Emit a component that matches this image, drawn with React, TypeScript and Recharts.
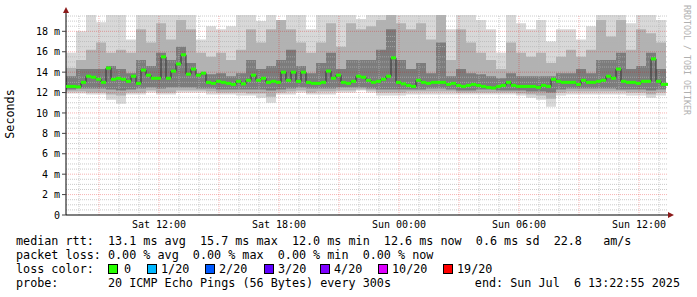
import React from "react";
import {
  ComposedChart,
  Area,
  Line,
  Scatter,
  XAxis,
  YAxis,
  ReferenceLine,
} from "recharts";

// time axis: hours since Sat 00:00
const START_H = 7.35;
const END_H = 37.45;
const MEDIAN_STEP_H = 0.25;
const SMOKE_STEP_H = 0.5;

const xTicks = [12, 18, 24, 30, 36];
const xTickLabels = ["Sat 12:00", "Sat 18:00", "Sun 00:00", "Sun 06:00", "Sun 12:00"];
const yTicks = [0, 2, 4, 6, 8, 10, 12, 14, 16, 18];

// median rtt (ms), one value every 15 min
const medianRtt = [
  12.6, 12.6, 12.55, 13.0, 13.6, 13.5, 13.3, 13.0, 14.4, 13.3,
  13.4, 13.3, 13.1, 13.6, 12.9, 14.2, 13.7, 13.4, 13.4, 15.5,
  13.4, 14.1, 14.8, 15.7, 13.8, 14.3, 13.7, 13.9, 13.0, 12.9,
  13.1, 13.0, 12.9, 12.8, 13.1, 12.85, 13.2, 13.7, 13.2, 13.4,
  13.0, 13.1, 13.0, 14.0, 13.2, 14.0, 13.1, 14.0, 13.0, 12.9,
  12.9, 13.0, 14.1, 13.4, 13.7, 13.0, 12.9, 13.1, 13.6, 13.5,
  13.2, 13.0, 13.1, 13.3, 13.6, 15.4, 13.0, 12.85, 12.7, 12.6,
  13.2, 13.0, 12.9, 13.0, 13.0, 13.0, 12.8, 12.9, 12.7, 12.6,
  12.7, 12.8, 12.7, 12.6, 12.5, 12.45, 12.6, 12.7, 13.0, 12.7,
  12.6, 12.6, 12.6, 12.6, 12.5, 12.7, 12.6, 13.3, 13.1, 13.0,
  13.0, 13.0, 12.8, 13.2, 13.0, 13.0, 13.1, 13.2, 13.6, 13.4,
  14.3, 13.1, 13.0, 13.0, 12.9, 13.1, 13.1, 15.3, 13.1, 12.8, 12.8,
];

// smoke bands (ms), one value every 30 min
const smokeMax = [
  15.9, 18.0, 19.6, 18.9, 19.6, 19.6, 17.2, 19.6, 19.6, 19.6,
  19.6, 19.6, 19.6, 17.2, 18.5, 18.2, 18.5, 19.6, 19.6, 19.0,
  19.6, 18.6, 19.6, 19.6, 18.2, 19.6, 19.6, 19.6, 19.6, 19.2,
  19.6, 19.6, 19.6, 19.6, 19.6, 19.6, 19.6, 19.6, 18.2, 19.6,
  19.6, 19.1, 18.2, 15.9, 19.6, 18.8, 18.2, 19.1, 17.0, 18.2,
  18.2, 17.2, 18.5, 19.6, 19.6, 19.6, 18.8, 19.6, 19.6, 19.1, 19.1,
];
const midHigh = [
  14.4, 15.2, 16.2, 16.9, 15.9, 16.2, 15.9, 18.2, 16.9, 18.8,
  17.2, 19.1, 18.2, 15.9, 15.5, 15.9, 15.2, 16.2, 18.2, 16.9,
  18.2, 19.1, 18.2, 16.9, 15.9, 16.9, 18.8, 16.5, 18.8, 18.2,
  18.5, 19.1, 19.6, 18.8, 18.2, 18.8, 17.2, 19.6, 15.2, 18.2,
  16.9, 15.9, 15.2, 14.3, 16.9, 15.9, 15.5, 15.9, 14.9, 15.5,
  16.2, 15.5, 16.2, 19.1, 17.5, 19.1, 16.2, 18.2, 17.8, 16.9, 16.9,
];
const darkHigh = [
  13.6, 14.3, 14.3, 14.3, 14.6, 14.3, 13.9, 15.2, 14.6, 15.9,
  15.2, 16.5, 14.9, 13.9, 13.8, 13.9, 13.6, 13.9, 15.2, 14.3,
  14.6, 15.2, 16.2, 14.6, 13.9, 14.9, 15.9, 14.3, 15.2, 15.2,
  15.2, 16.2, 18.2, 15.2, 14.3, 14.9, 13.9, 16.9, 13.6, 14.3,
  13.9, 13.8, 13.6, 13.4, 13.9, 13.6, 13.6, 13.6, 13.6, 13.9,
  13.9, 14.3, 13.9, 15.2, 15.2, 15.9, 14.3, 14.6, 15.9, 14.3, 14.3,
];
const darkLow = [
  12.3, 12.4, 12.4, 12.4, 12.3, 12.2, 12.3, 12.4, 12.5, 12.4,
  12.5, 12.5, 12.5, 12.4, 12.4, 12.3, 12.3, 12.3, 12.3, 12.3,
  12.2, 12.3, 12.4, 12.5, 12.4, 12.4, 12.4, 12.5, 12.5, 12.5,
  12.4, 12.3, 12.3, 12.3, 12.3, 12.3, 12.4, 12.4, 12.3, 12.2,
  12.2, 12.3, 12.3, 12.2, 12.2, 12.2, 12.1, 12.1, 12.0, 12.3,
  12.4, 12.4, 12.4, 12.4, 12.4, 12.3, 12.3, 12.3, 12.2, 12.3, 12.3,
];
const midLow = [
  12.1, 12.1, 12.0, 12.0, 11.8, 11.7, 12.0, 12.0, 12.2, 12.0,
  12.0, 12.2, 12.2, 12.2, 12.1, 12.0, 12.0, 12.0, 11.9, 11.9,
  11.6, 12.0, 12.1, 12.2, 12.0, 12.1, 12.1, 12.2, 12.2, 12.3,
  12.2, 12.0, 12.0, 12.0, 12.1, 12.1, 12.1, 12.1, 12.1, 12.0,
  12.0, 12.0, 12.0, 12.0, 12.0, 11.9, 11.8, 11.7, 11.4, 12.0,
  12.1, 12.1, 12.1, 12.1, 12.1, 12.1, 12.0, 12.0, 11.8, 12.0, 12.0,
];
const smokeMin = [
  11.9, 11.9, 11.8, 11.8, 11.3, 10.9, 11.8, 11.8, 12.0, 11.8,
  11.8, 12.0, 12.0, 12.0, 11.8, 11.8, 11.8, 11.7, 11.7, 11.5,
  11.0, 11.8, 11.8, 12.0, 11.8, 11.8, 11.8, 12.0, 12.0, 12.2,
  12.0, 11.7, 11.7, 11.7, 11.8, 11.8, 11.8, 11.8, 11.8, 11.8,
  11.8, 11.8, 11.8, 11.8, 11.8, 11.7, 11.5, 11.3, 10.6, 11.7,
  11.8, 11.8, 11.8, 11.8, 11.8, 11.8, 11.7, 11.7, 11.5, 11.7, 11.7,
];

const lossLabels = ["0", "1/20", "2/20", "3/20", "4/20", "10/20", "19/20"];
const lossColors = ["#26ff00", "#00b8ff", "#0059ff", "#5e00ff", "#7e00ff", "#dd00ff", "#ff0000"];

const statsLine = "median rtt:  13.1 ms avg  15.7 ms max  12.0 ms min  12.6 ms now  0.6 ms sd  22.8   am/s";
const lossLine = "packet loss: 0.00 % avg  0.00 % max  0.00 % min  0.00 % now";
const probeText = "20 ICMP Echo Pings (56 Bytes) every 300s";
const endText = "end: Sun Jul  6 13:22:55 2025";

const medianRows = medianRtt.map((v, i) => ({ t: START_H + i * MEDIAN_STEP_H, median: v }));
const smokeRows = smokeMax.map((_, i) => ({
  t: START_H + i * SMOKE_STEP_H,
  outer: [smokeMin[i], smokeMax[i]],
  mid: [midLow[i], midHigh[i]],
  dark: [darkLow[i], darkHigh[i]],
}));

// grid lines
const minorY = Array.from({ length: 39 }, (_, i) => (i + 1) * 0.5).filter((v) => v % 2 !== 0);
const majorY = [2, 4, 6, 8, 10, 12, 14, 16, 18];
const hours = Array.from({ length: 30 }, (_, i) => 8 + i);
const minorX = hours.filter((h) => h % 3 !== 0);
const majorX = hours.filter((h) => h % 3 === 0);

const MONO = "'DejaVu Sans Mono', monospace";
const LEGEND_BOX_X = [108, 147, 205, 264, 320, 378, 443];
const LEGEND_TEXT_X = [124, 161, 219, 278, 334, 392, 457];

// svg text collapses runs of spaces, keep them as nbsp
const keepSpaces = (s: string) => s.replace(/ /g, "\u00a0");

const GreenDash = (props: any) => {
  const { cx, cy } = props;
  if (cx == null || cy == null) return null;
  return <rect x={cx} y={cy - 1.5} width={5} height={3} fill="#26ff00" />;
};

export default function App() {
  return (
    <div style={{ position: "fixed", left: 0, top: 0, width: 697, height: 297, background: "#fff" }}>
      <ComposedChart
        width={697}
        height={297}
        data={medianRows}
        margin={{ top: 15, right: 29, bottom: 62, left: 0 }}
      >
        <XAxis
          dataKey="t"
          type="number"
          domain={[START_H, END_H]}
          allowDataOverflow
          ticks={xTicks}
          interval={0}
          tickFormatter={(v) => xTickLabels[xTicks.indexOf(v)]}
          height={20}
          axisLine={{ stroke: "#000" }}
          tickLine={false}
          tickSize={4}
          tickMargin={2}
          tick={{ fontFamily: MONO, fontSize: 10, fill: "#000" }}
        />
        <YAxis
          type="number"
          domain={[0, 19.6]}
          allowDataOverflow
          ticks={yTicks}
          interval={0}
          tickFormatter={(v) => (v === 0 ? "0" : `${v} m`)}
          width={66}
          axisLine={{ stroke: "#000" }}
          tickLine={{ stroke: "#444" }}
          tickSize={4}
          tickMargin={2}
          tick={{ fontFamily: MONO, fontSize: 10, fill: "#000" }}
        />
        <Area
          data={smokeRows}
          dataKey={(d: any) => d.outer}
          type="stepAfter"
          stroke="none"
          fill="#d8d8d8"
          fillOpacity={1}
          isAnimationActive={false}
        />
        <Area
          data={smokeRows}
          dataKey={(d: any) => d.mid}
          type="stepAfter"
          stroke="none"
          fill="#b2b2b2"
          fillOpacity={1}
          isAnimationActive={false}
        />
        <Area
          data={smokeRows}
          dataKey={(d: any) => d.dark}
          type="stepAfter"
          stroke="none"
          fill="#7c7c7c"
          fillOpacity={1}
          isAnimationActive={false}
        />
        {minorY.map((v) => (
          <ReferenceLine key={`my${v}`} y={v} stroke="#b4b4b4" strokeOpacity={0.7} strokeDasharray="1 1" />
        ))}
        {minorX.map((h) => (
          <ReferenceLine key={`mx${h}`} x={h} stroke="#b4b4b4" strokeOpacity={0.7} strokeDasharray="1 1" />
        ))}
        {majorY.map((v) => (
          <ReferenceLine key={`My${v}`} y={v} stroke="#e00000" strokeOpacity={0.3} strokeDasharray="1 1" />
        ))}
        {majorX.map((h) => (
          <ReferenceLine key={`Mx${h}`} x={h} stroke="#e00000" strokeOpacity={0.3} strokeDasharray="1 1" />
        ))}
        <Line
          dataKey="median"
          type="stepAfter"
          stroke="#333"
          strokeWidth={1}
          dot={false}
          isAnimationActive={false}
        />
        <Scatter dataKey="median" shape={GreenDash} isAnimationActive={false} />
      </ComposedChart>

      <svg
        width={697}
        height={297}
        style={{ position: "absolute", left: 0, top: 0, pointerEvents: "none" }}
      >
        <line x1={66} y1={10} x2={66} y2={15} stroke="#000" />
        <polygon points="63,13 69,13 66,7" fill="#8b1a1a" />
        <polygon points="668,212 668,218 674,215" fill="#8b1a1a" />
        <text
          x={14}
          y={114}
          transform="rotate(-90 14 114)"
          textAnchor="middle"
          fontFamily={MONO}
          fontSize={11.75}
          fill="#000"
        >
          Seconds
        </text>
        <text
          x={684}
          y={60}
          transform="rotate(90 684 60)"
          textAnchor="middle"
          fontFamily={MONO}
          fontSize={8.3}
          fill="#b0b0b0"
        >
          RRDTOOL / TOBI OETIKER
        </text>
        <g fontFamily={MONO} fontSize={11.75} fill="#000">
          <text x={16} y={245}>{keepSpaces(statsLine)}</text>
          <text x={16} y={259}>{keepSpaces(lossLine)}</text>
          <text x={16} y={273}>{keepSpaces("loss color:")}</text>
          {lossLabels.map((l, i) => (
            <g key={l}>
              <rect x={LEGEND_BOX_X[i] + 0.5} y={264.5} width={9} height={9} fill={lossColors[i]} stroke="#000" />
              <text x={LEGEND_TEXT_X[i]} y={273}>{l}</text>
            </g>
          ))}
          <text x={16} y={287}>probe:</text>
          <text x={108} y={287}>{keepSpaces(probeText)}</text>
          <text x={680} y={287} textAnchor="end">{keepSpaces(endText)}</text>
        </g>
      </svg>
    </div>
  );
}
